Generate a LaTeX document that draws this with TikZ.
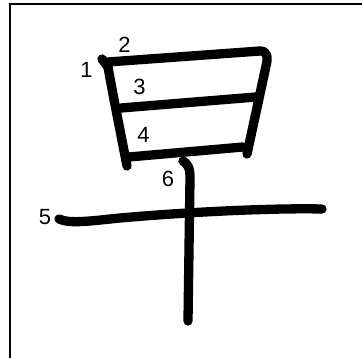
\documentclass[tikz,border=0pt]{standalone}
\usepackage{fontspec}
\setmainfont{Liberation Sans}
\begin{document}
\begin{tikzpicture}[x=1pt,y=-1pt,
  strokeline/.style={line width=9.3pt,line cap=round,line join=round},
  framel/.style={line width=2pt},
  num/.style={font=\fontsize{22}{22}\selectfont,inner sep=0pt}]
\useasboundingbox (0,0) rectangle (362,358);
\fill[white] (0,0) rectangle (362,358);
% frame
\coordinate (fa) at (10,358);
\coordinate (fb) at (10,4);
\coordinate (fc) at (362,4);
\draw[framel] (fa) -- (fb) -- (fc);
% stroke 1
\coordinate (s1a) at (102,59);
\coordinate (s1b) at (108,67);
\coordinate (s1c) at (127,166);
\draw[strokeline] (s1a) -- (s1b) .. controls (112,90) and (120,130) .. (s1c);
% stroke 2
\coordinate (s2a) at (108,62);
\coordinate (s2b) at (260,51);
\coordinate (s2c) at (247,154);
\draw[strokeline] (s2a) -- (s2b) .. controls (268,51) and (268,58) .. (266,66) -- (s2c);
% stroke 3
\coordinate (s3a) at (121,108);
\coordinate (s3b) at (256,97);
\draw[strokeline] (s3a) -- (s3b);
% stroke 4
\coordinate (s4a) at (129,157);
\coordinate (s4b) at (243,147);
\draw[strokeline] (s4a) -- (s4b);
% stroke 5
\coordinate (s5a) at (59,219);
\coordinate (s5b) at (322,209);
\draw[strokeline] (s5a) .. controls (70,224) and (90,221) .. (120,218) .. controls (200,211) and (280,208) .. (s5b);
% stroke 6
\coordinate (s6a) at (183,161);
\coordinate (s6b) at (188,321);
\draw[strokeline] (s6a) .. controls (188,164) and (190,168) .. (190,178) -- (s6b);
% labels
\node[num] (n1) at (86.5,69.5) {1};
\node[num] (n2) at (124.5,45) {2};
\node[num] (n3) at (139.5,87) {3};
\node[num] (n4) at (143.5,134.5) {4};
\node[num] (n5) at (45,217) {5};
\node[num] (n6) at (168,179) {6};
\end{tikzpicture}
\end{document}
